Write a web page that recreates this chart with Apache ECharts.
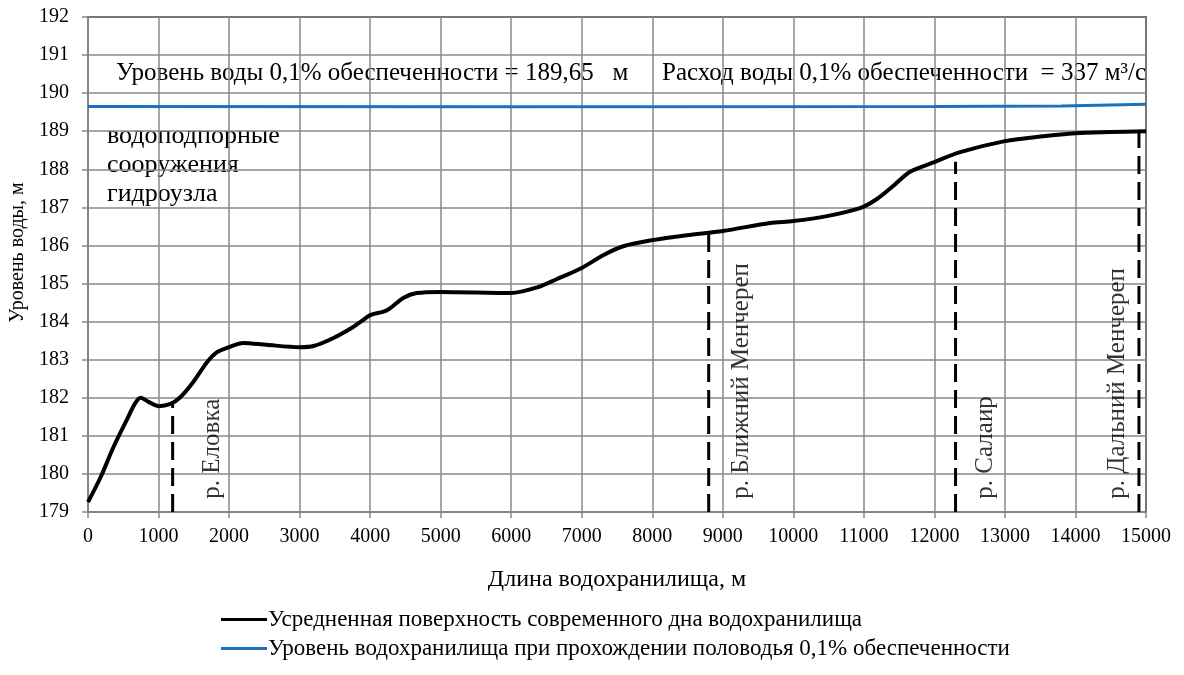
<!DOCTYPE html>
<html><head><meta charset="utf-8">
<script src="https://cdn.jsdelivr.net/npm/echarts@6/dist/echarts.min.js"></script>
<style>html,body{margin:0;padding:0;background:#fff}#c{width:1184px;height:675px}</style>
</head><body><div id="c"></div>
<script>
// Bottom profile (distance, m ; elevation, m)
const bottomX = [0,180,360,550,670,750,850,1000,1170,1300,1490,1690,1830,2000,2200,2530,3000,3200,3480,3760,3900,4000,4240,4470,4660,5000,6000,6370,6650,7000,7310,7590,8000,8490,9000,9670,10000,10475,10945,11185,11415,11650,12000,12365,13000,13540,14000,14490,15000];
const bottomY = [179.26,179.92,180.7,181.42,181.86,182.0,181.9,181.78,181.84,182.0,182.41,182.94,183.2,183.33,183.44,183.39,183.33,183.36,183.57,183.86,184.04,184.17,184.3,184.62,184.75,184.78,184.75,184.9,185.12,185.41,185.75,185.98,186.14,186.27,186.38,186.59,186.64,186.77,186.98,187.22,187.56,187.93,188.19,188.45,188.74,188.87,188.95,188.98,189.0];
// Flood water level 0.1%
const waterX = [0,6000,12000,13800,15000];
const waterY = [189.65,189.64,189.65,189.66,189.71];
// Tributaries
const tribNames = ['р. Еловка','р. Ближний Менчереп','р. Салаир','р. Дальний Менчереп'];
const tribX = [1200,8800,12300,14900];
const tribTop = [181.84,186.38,188.2,189.0];
const tribLabelX = [1770,9270,12720,14600];
const tribLabelY = 179.35;
// Axis ticks
const xMin = 0, xMax = 15000, xStep = 1000;
const yMin = 179, yMax = 192, yStep = 1;
const seriesNames = ['Усредненная поверхность современного дна водохранилища','Уровень водохранилища при прохождении половодья 0,1% обеспеченности'];

const FONT = "'Liberation Serif','Times New Roman',serif";
const chart = echarts.init(document.getElementById('c'), null, {renderer:'canvas'});

const series = [
  {name: seriesNames[0], type:'line', data: bottomX.map((x,i)=>[x,bottomY[i]]), smooth:0.3, symbol:'none',
   lineStyle:{color:'#000', width:4}, itemStyle:{color:'#000'}, z:5},
  {name: seriesNames[1], type:'line', data: waterX.map((x,i)=>[x,waterY[i]]), symbol:'none',
   lineStyle:{color:'#1a72bf', width:3}, itemStyle:{color:'#1a72bf'}, z:4}
];
tribX.forEach((x,i)=>{
  series.push({type:'line', data:[[x,yMin],[x,tribTop[i]]], symbol:'none', silent:true,
    lineStyle:{color:'#000', width:3, type:[18,8]}, z:3});
});
series.push({type:'scatter', symbolSize:0, silent:true,
  data: tribLabelX.map((x,i)=>({value:[x,tribLabelY], name:tribNames[i]})),
  label:{show:true, formatter:p=>p.name, rotate:90, position:'inside', align:'left', verticalAlign:'middle',
    fontFamily:FONT, fontSize:25, color:'#000'}});

chart.setOption({
  animation:false,
  textStyle:{fontFamily:FONT},
  grid:{left:88, right:38, top:17, bottom:163, show:true, borderColor:'#000', borderWidth:1.5, backgroundColor:'transparent'},
  xAxis:{type:'value', min:xMin, max:xMax, interval:xStep,
    name:'Длина водохранилища, м', nameLocation:'middle', nameGap:56,
    nameTextStyle:{fontFamily:FONT, fontSize:24, color:'#000'},
    axisLine:{lineStyle:{color:'#888', width:1.5}}, axisTick:{show:true, length:6, lineStyle:{color:'#888', width:1.5}},
    axisLabel:{fontFamily:FONT, fontSize:20, color:'#000', margin:15, formatter:v=>String(v)},
    splitLine:{show:true, lineStyle:{color:'#888', width:1.5}}},
  yAxis:{type:'value', min:yMin, max:yMax, interval:yStep,
    name:'Уровень воды, м', nameLocation:'middle', nameGap:48,
    nameTextStyle:{fontFamily:FONT, fontSize:20, color:'#000', padding:[0,0,0,24]},
    axisLine:{show:true, lineStyle:{color:'#888', width:1.5}}, axisTick:{show:true, length:6, lineStyle:{color:'#888', width:1.5}},
    axisLabel:{fontFamily:FONT, fontSize:20, color:'#000', margin:19, formatter:v=>String(v)},
    splitLine:{show:true, lineStyle:{color:'#888', width:1.5}}},
  legend:{data:[
      {name:seriesNames[0], icon:'rect', itemStyle:{color:'#000'}},
      {name:seriesNames[1], icon:'rect', itemStyle:{color:'#1a72bf'}}],
    orient:'vertical', left:216, top:603, itemWidth:46, itemHeight:3, itemGap:6,
    textStyle:{fontFamily:FONT, fontSize:23, color:'#000', padding:[0,0,0,-4]}},
  graphic:[
    {type:'text', left:116, top:61, style:{text:'Уровень воды 0,1% обеспеченности = 189,65   м', font:"25px "+FONT, fill:'#000'}},
    {type:'text', left:662, top:61, style:{text:'Расход воды 0,1% обеспеченности  = 337 м³/с', font:"25px "+FONT, fill:'#000'}},
    {type:'text', left:107, top:122, style:{text:'водоподпорные\nсооружения\nгидроузла', font:"26px "+FONT, lineHeight:29, fill:'#000'}}
  ],
  series: series
});
</script></body></html>
